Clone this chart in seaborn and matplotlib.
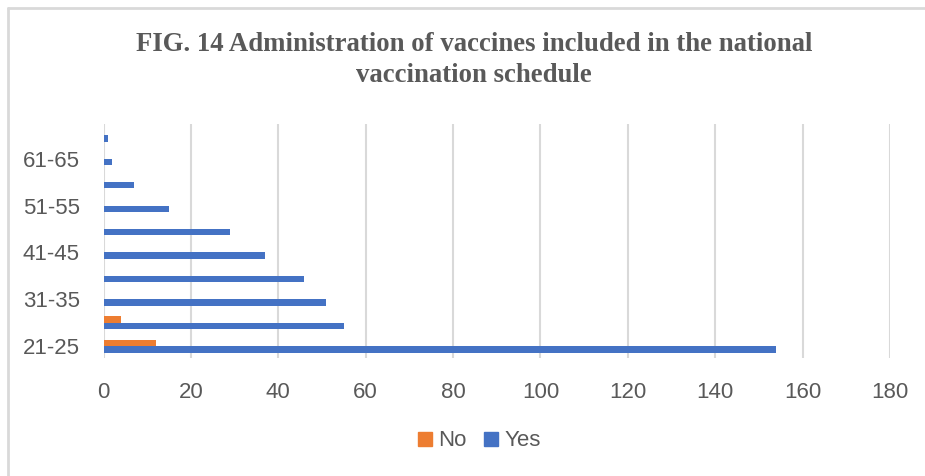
import matplotlib
matplotlib.use("Agg")
import matplotlib.pyplot as plt
from matplotlib.lines import Line2D
import seaborn as sns
import pandas as pd

# Age groups, listed top to bottom as drawn
age_groups = ["66-70", "61-65", "56-60", "51-55", "46-50",
              "41-45", "36-40", "31-35", "26-30", "21-25"]
yes_counts = [1, 2, 7, 15, 29, 37, 46, 51, 55, 154]
no_counts = [0, 0, 0, 0, 0, 0, 0, 0, 4, 12]
labelled_groups = ["61-65", "51-55", "41-45", "31-35", "21-25"]
x_ticks = [0, 20, 40, 60, 80, 100, 120, 140, 160, 180]

title_text = "FIG. 14 Administration of vaccines included in the national\nvaccination schedule"
series_names = ["No", "Yes"]
series_colors = {"No": "#ED7D31", "Yes": "#4472C4"}

df = pd.DataFrame({
    "age": age_groups * 2,
    "answer": ["No"] * len(age_groups) + ["Yes"] * len(age_groups),
    "count": no_counts + yes_counts,
})

sns.set_theme(style="white")
plt.rcParams["font.family"] = ["Liberation Sans", "DejaVu Sans"]
text_gray = "#595959"
grid_gray = "#D9D9D9"

fig = plt.figure(figsize=(9.25, 4.76), dpi=100)
ax = fig.add_axes([103.5 / 925, 1 - 358 / 476, (890 - 103.5) / 925, (358 - 123.5) / 476])

sns.barplot(data=df, x="count", y="age", hue="answer", order=age_groups,
            hue_order=series_names, palette=series_colors, orient="h",
            width=0.54, saturation=1, linewidth=0, ax=ax, legend=False)

ax.set_xlim(0, 180)
ax.set_xticks(x_ticks)
ax.set_xticklabels([str(v) for v in x_ticks])
ax.set_ylim(len(age_groups) - 0.5, -0.5)
ax.set_yticks(range(len(age_groups)))
ax.set_yticklabels([a if a in labelled_groups else "" for a in age_groups])
ax.set_xlabel("")
ax.set_ylabel("")

ax.xaxis.grid(True, color=grid_gray, linewidth=1.5)
ax.yaxis.grid(False)
ax.set_axisbelow(True)
for s in ax.spines.values():
    s.set_visible(False)
ax.tick_params(axis="x", length=0, pad=17.5, labelsize=16, labelcolor=text_gray)
ax.tick_params(axis="y", length=0, pad=17, labelsize=16, labelcolor=text_gray)

fig.text(474 / 925, 1 - 60 / 476, title_text, ha="center", va="center",
         fontsize=19.3, fontweight="bold", color=text_gray,
         family=["Liberation Serif", "DejaVu Serif"], linespacing=1.3)

handles = [Line2D([], [], marker="s", linestyle="", markersize=10,
                  markerfacecolor=series_colors[n], markeredgecolor=series_colors[n])
           for n in series_names]
fig.legend(handles, series_names, loc="center", bbox_to_anchor=(477 / 925, 1 - 441 / 476),
           ncol=2, frameon=False, fontsize=16, labelcolor=text_gray,
           handletextpad=0.1, columnspacing=0.6, handlelength=1.0)

# outer chart frame (left and top edges)
fig.add_artist(Line2D([7.5 / 925, 7.5 / 925], [0, 1 - 8 / 476], color=grid_gray, linewidth=2,
                      transform=fig.transFigure))
fig.add_artist(Line2D([7.5 / 925, 1], [1 - 8 / 476, 1 - 8 / 476], color=grid_gray, linewidth=2,
                      transform=fig.transFigure))

fig.savefig("out.png", dpi=100, facecolor="white")
